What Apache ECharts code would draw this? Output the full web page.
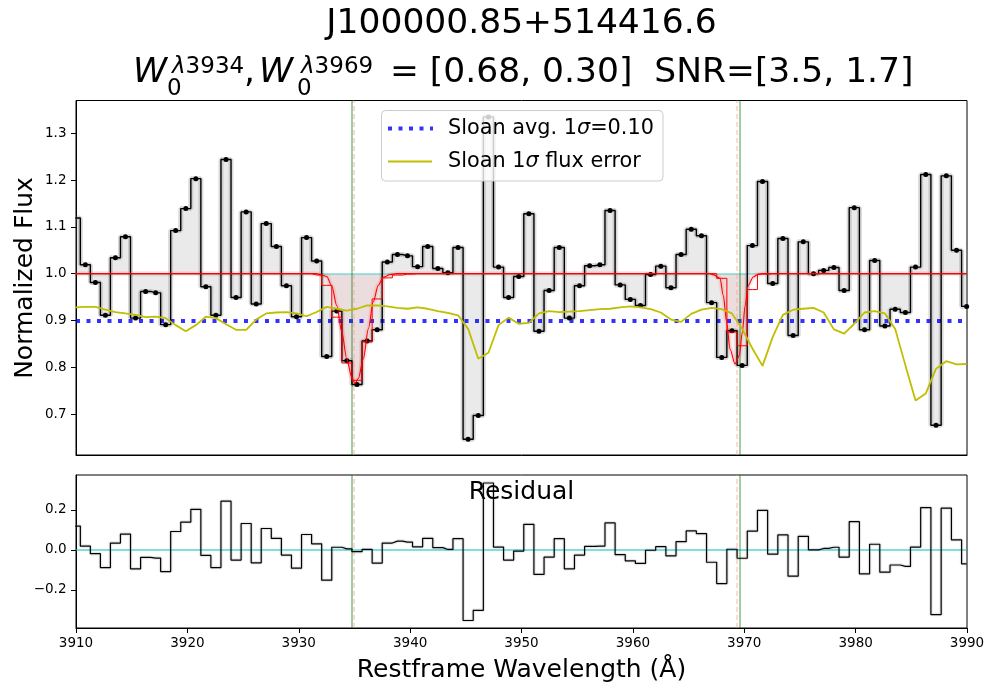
<!DOCTYPE html>
<html>
<head>
<meta charset="utf-8">
<title>J100000.85+514416.6</title>
<script src="https://cdn.jsdelivr.net/npm/echarts@6/dist/echarts.min.js"></script>
<style>
  html, body { margin: 0; background: #fff; }
  #chart { width: 1000px; height: 700px; }
</style>
</head>
<body>
<div id="chart"></div>
<script>
// 数据：从图上读出（restframe 波长，归一化流量）
const wave = [
  3909.94, 3910.84, 3911.74, 3912.64, 3913.54, 3914.44, 3915.35, 3916.25, 3917.15, 3918.05,
  3918.95, 3919.86, 3920.76, 3921.66, 3922.56, 3923.47, 3924.37, 3925.28, 3926.18, 3927.08,
  3927.99, 3928.89, 3929.80, 3930.70, 3931.61, 3932.51, 3933.42, 3934.32, 3935.23, 3936.14,
  3937.04, 3937.95, 3938.86, 3939.76, 3940.67, 3941.58, 3942.49, 3943.39, 3944.30, 3945.21,
  3946.12, 3947.03, 3947.94, 3948.84, 3949.75, 3950.66, 3951.57, 3952.48, 3953.39, 3954.30,
  3955.21, 3956.12, 3957.04, 3957.95, 3958.86, 3959.77, 3960.68, 3961.59, 3962.51, 3963.42,
  3964.33, 3965.24, 3966.16, 3967.07, 3967.98, 3968.90, 3969.81, 3970.73, 3971.64, 3972.56,
  3973.47, 3974.39, 3975.30, 3976.22, 3977.13, 3978.05, 3978.97, 3979.88, 3980.80, 3981.71,
  3982.63, 3983.55, 3984.47, 3985.38, 3986.30, 3987.22, 3988.14, 3989.06, 3989.97
]

const flux = [
  1.119, 1.019, 0.981, 0.911, 1.034, 1.079, 0.905, 0.962, 0.959, 0.891,
  1.092, 1.139, 1.203, 0.972, 0.911, 1.244, 0.949, 1.132, 0.935, 1.107,
  1.058, 0.974, 0.908, 1.077, 1.027, 0.823, 0.920, 0.814, 0.763, 0.856,
  0.880, 1.025, 1.041, 1.038, 1.015, 1.058, 1.011, 1.002, 1.056, 0.646,
  0.697, 1.335, 1.014, 0.949, 0.994, 1.128, 0.877, 0.964, 1.056, 0.905,
  0.974, 1.017, 1.019, 1.135, 0.976, 0.945, 0.932, 0.998, 1.016, 0.970,
  1.041, 1.095, 1.081, 0.938, 0.821, 0.878, 0.804, 1.060, 1.197, 0.979,
  1.075, 0.868, 1.068, 1.000, 1.007, 1.013, 0.964, 1.141, 0.880, 1.028,
  0.888, 0.924, 0.917, 1.014, 1.212, 0.676, 1.209, 1.050, 0.930
]

// 按像素分箱的拟合模型（红色阶梯线）
const modelBin = [
  1, 1, 1, 1, 1, 1, 1, 1, 1, 1,
  1, 1, 1, 1, 1, 1, 1, 1, 1, 1,
  1, 1, 1, 1, 0.997, 0.975, 0.907, 0.809, 0.772, 0.854,
  0.946, 0.991, 0.997, 0.999, 1, 1, 1, 1, 1, 1,
  1, 1, 1, 1, 1, 1, 1, 1, 1, 1,
  1, 1, 1, 1, 1, 1, 1, 1, 1, 1,
  1, 1, 1, 1, 0.990, 0.875, 0.846, 0.966, 0.999, 1,
  1, 1, 1, 1, 1, 1, 1, 1, 1, 1,
  1, 1, 1, 1, 1, 1, 1, 1, 1
]

// Sloan 1σ 流量误差，画成 1 - σ
const fluxErrLine = [
  0.928, 0.929, 0.929, 0.923, 0.918, 0.915, 0.912, 0.907, 0.908, 0.905,
  0.890, 0.877, 0.890, 0.908, 0.905, 0.892, 0.880, 0.880, 0.902, 0.915,
  0.917, 0.918, 0.915, 0.909, 0.918, 0.929, 0.925, 0.921, 0.925, 0.932,
  0.932, 0.930, 0.927, 0.925, 0.928, 0.925, 0.920, 0.916, 0.911, 0.882,
  0.818, 0.831, 0.890, 0.906, 0.893, 0.895, 0.915, 0.920, 0.918, 0.919,
  0.920, 0.922, 0.924, 0.925, 0.928, 0.930, 0.928, 0.924, 0.917, 0.902,
  0.897, 0.914, 0.923, 0.927, 0.924, 0.915, 0.882, 0.840, 0.803, 0.865,
  0.912, 0.923, 0.925, 0.927, 0.917, 0.881, 0.872, 0.893, 0.917, 0.920,
  0.915, 0.882, 0.804, 0.729, 0.744, 0.797, 0.813, 0.806, 0.807
]

// 高分辨率模型曲线（红色细线）
const modelWave = [
  3909.94, 3931.60, 3931.91, 3932.51, 3932.96, 3933.41, 3933.86, 3934.31, 3934.75, 3935.05,
  3935.35, 3935.80, 3936.25, 3936.69, 3937.14, 3937.59, 3938.19, 3938.80, 3966.90, 3967.22,
  3967.82, 3968.12, 3968.42, 3968.72, 3969.17, 3969.56, 3969.83, 3970.08, 3970.36, 3970.81,
  3971.20, 3971.60, 3989.97
]
const modelFlux = [
  1.0, 1.0, 0.998, 0.994, 0.974, 0.932, 0.876, 0.818, 0.779, 0.765,
  0.776, 0.818, 0.882, 0.940, 0.975, 0.992, 0.998, 1.0, 1.0, 0.998,
  0.990, 0.953, 0.896, 0.839, 0.807, 0.825, 0.875, 0.932, 0.975, 0.993,
  0.998, 1.0, 1.0
]

const sloanAvgLevel = 0.897          // 1 - 平均 σ
const lineRest = [3934.78, 3969.59]  // Ca II K, H 静止波长
const lineFit = [3934.96, 3969.30]   // 拟合中心
const yTicksFlux = [0.7, 0.8, 0.9, 1.0, 1.1, 1.2, 1.3]
const yTicksResid = [-0.2, 0, 0.2]

const FONT = 'DejaVu Sans'
const pairs = (xs, ys) => xs.map((x, i) => [x, ys[i]])
const residual = flux.map((f, i) => +(f - modelBin[i]).toFixed(3))

/**
 * 画一段文字（标题、图例、轴名）
 */
function txt(x, y, text, { size = 20.8, italic = false, align = 'left', rotation = 0, rich } = {}) {
  return {
    type: 'text', x, y, rotation, z: 100, silent: true,
    style: {
      text, fill: '#000',
      fontFamily: FONT, fontSize: size, fontStyle: italic ? 'italic' : 'normal',
      textAlign: align, textVerticalAlign: 'middle',
      rich
    }
  }
}

function vLines(color, dashed) {
  return (dashed ? lineFit : lineRest).map(v => ({
    xAxis: v,
    lineStyle: { color, width: 1.5, type: dashed ? [5, 3] : 'solid' }
  }))
}

// 只放 markLine 的空系列
function markerSeries(xi, yi, data, z) {
  return {
    type: 'line', xAxisIndex: xi, yAxisIndex: yi, data: [], z, silent: true,
    markLine: { silent: true, symbol: 'none', label: { show: false }, animation: false, data }
  }
}

const caLines = [...vLines('rgba(0,128,0,0.5)', false), ...vLines('rgba(255,150,160,0.5)', true)]

const supRich = {
  l: { fontFamily: FONT, fontSize: 23, fontStyle: 'italic' },
  d: { fontFamily: FONT, fontSize: 23 }
}
const legRich = {
  n: { fontFamily: FONT, fontSize: 20.8 },
  s: { fontFamily: FONT, fontSize: 20.8, fontStyle: 'italic' }
}

const axisCommon = {
  axisLine: { show: true, onZero: false, lineStyle: { color: '#000', width: 1 } },
  splitLine: { show: false },
  axisTick: { show: true, length: 5, lineStyle: { color: '#000' } },
  axisLabel: { color: '#000', fontFamily: FONT, fontSize: 13.5 }
}

const option = {
  animation: false,
  backgroundColor: '#fff',
  textStyle: { fontFamily: FONT },
  grid: [
    { left: 76, top: 100.5, width: 891, height: 354.5, show: true, borderColor: '#000', borderWidth: 1, backgroundColor: 'transparent' },
    { left: 76, top: 475, width: 891, height: 153, show: true, borderColor: '#000', borderWidth: 1, backgroundColor: 'transparent' }
  ],
  xAxis: [
    { ...axisCommon, type: 'value', gridIndex: 0, min: 3910, max: 3990,
      axisTick: { show: false }, axisLabel: { show: false } },
    { ...axisCommon, type: 'value', gridIndex: 1, min: 3910, max: 3990, interval: 10,
      axisLabel: { ...axisCommon.axisLabel, margin: 8, formatter: v => String(v) } }
  ],
  yAxis: [
    { ...axisCommon, type: 'value', gridIndex: 0, min: 0.6125, max: 1.37,
      axisTick: { ...axisCommon.axisTick, customValues: yTicksFlux },
      axisLabel: { ...axisCommon.axisLabel, margin: 9.5, customValues: yTicksFlux, formatter: v => v.toFixed(1) } },
    { ...axisCommon, type: 'value', gridIndex: 1, min: -0.3915, max: 0.375,
      axisTick: { ...axisCommon.axisTick, customValues: yTicksResid },
      axisLabel: { ...axisCommon.axisLabel, margin: 9.5, customValues: yTicksResid,
        formatter: v => (v < 0 ? '\u2212' : '') + Math.abs(v).toFixed(1) } }
  ],
  series: [
    // 上图：连续谱 1.0 的青色线
    markerSeries(0, 0, [{ yAxis: 1, lineStyle: { color: 'rgba(0,191,191,0.35)', width: 2, type: 'solid' } }], 1),
    // 数据与连续谱之间的灰色填充
    {
      type: 'line', xAxisIndex: 0, yAxisIndex: 0, step: 'middle', data: pairs(wave, flux),
      symbol: 'none', lineStyle: { width: 0, opacity: 0 },
      areaStyle: { origin: 1, color: 'rgba(128,128,128,0.24)' }, z: 1, silent: true
    },
    // 数据阶梯线的灰色外晕
    {
      type: 'line', xAxisIndex: 0, yAxisIndex: 0, step: 'middle', data: pairs(wave, flux),
      symbol: 'none', lineStyle: { width: 5, color: 'rgba(128,128,128,0.3)' }, z: 2, silent: true
    },
    // 模型吸收区的粉色填充 + 外晕
    {
      type: 'line', xAxisIndex: 0, yAxisIndex: 0, data: pairs(modelWave, modelFlux),
      smooth: 0.3, smoothMonotone: 'x', symbol: 'none',
      lineStyle: { width: 5, color: 'rgba(255,0,0,0.1)' },
      areaStyle: { origin: 1, color: 'rgba(255,0,0,0.08)' }, z: 3, silent: true
    },
    // 观测流量
    {
      type: 'line', xAxisIndex: 0, yAxisIndex: 0, step: 'middle', data: pairs(wave, flux),
      symbol: 'circle', symbolSize: 5, showSymbol: true, showAllSymbol: true,
      itemStyle: { color: '#000' }, lineStyle: { width: 1.4, color: '#000' }, z: 5, silent: true
    },
    // 分箱模型
    {
      type: 'line', xAxisIndex: 0, yAxisIndex: 0, step: 'middle', data: pairs(wave, modelBin),
      symbol: 'none', lineStyle: { width: 1, color: '#ff0000' }, z: 6, silent: true
    },
    // 高分辨率模型
    {
      type: 'line', xAxisIndex: 0, yAxisIndex: 0, data: pairs(modelWave, modelFlux),
      smooth: 0.3, smoothMonotone: 'x', symbol: 'none',
      lineStyle: { width: 1.1, color: '#ff0000' }, z: 6, silent: true
    },
    // Sloan 1σ flux error
    {
      type: 'line', xAxisIndex: 0, yAxisIndex: 0, data: pairs(wave, fluxErrLine),
      symbol: 'none', lineStyle: { width: 1.8, color: '#bfbf00' }, z: 7, silent: true
    },
    // 平均 1σ 水平点线 + Ca II 竖线
    markerSeries(0, 0, [{
      yAxis: sloanAvgLevel,
      lineStyle: { color: 'rgba(0,0,255,0.8)', width: 4, type: [4, 6.5], cap: 'butt' }
    }, ...caLines], 9),

    // 下图：残差
    markerSeries(1, 1, [{ yAxis: 0, lineStyle: { color: 'rgba(0,191,191,0.5)', width: 2, type: 'solid' } }], 1),
    {
      type: 'line', xAxisIndex: 1, yAxisIndex: 1, step: 'middle', data: pairs(wave, residual),
      symbol: 'none', lineStyle: { width: 3.5, color: 'rgba(128,128,128,0.2)' }, z: 2, silent: true
    },
    {
      type: 'line', xAxisIndex: 1, yAxisIndex: 1, step: 'middle', data: pairs(wave, residual),
      symbol: 'none', lineStyle: { width: 1.2, color: '#000' }, z: 5, silent: true
    },
    markerSeries(1, 1, caLines, 9)
  ],
  graphic: [
    // 标题
    txt(521.5, 24, 'J100000.85+514416.6', { size: 34.5, align: 'center' }),
    txt(133, 73, 'W', { size: 34.5, italic: true }),
    txt(172, 67, '{l|λ}{d|3934}', { rich: supRich }),
    txt(167, 89, '0', { size: 23 }),
    txt(244, 73, ',', { size: 34.5 }),
    txt(259, 73, 'W', { size: 34.5, italic: true }),
    txt(301, 67, '{l|λ}{d|3969}', { rich: supRich }),
    txt(297, 89, '0', { size: 23 }),
    txt(390, 73, '= [0.68, 0.30]  SNR=[3.5, 1.7]', { size: 34.5 }),

    // 图例
    {
      type: 'rect', z: 99, silent: true,
      shape: { x: 381.5, y: 110.5, width: 281.5, height: 70.5, r: 4 },
      style: { fill: 'rgba(255,255,255,0.8)', stroke: '#cccccc', lineWidth: 1 }
    },
    {
      type: 'line', z: 100, silent: true,
      shape: { x1: 388, y1: 128.5, x2: 433, y2: 128.5 },
      style: { stroke: 'rgba(0,0,255,0.8)', lineWidth: 4, lineDash: [4, 6.5], lineCap: 'butt' }
    },
    {
      type: 'line', z: 100, silent: true,
      shape: { x1: 388, y1: 161.5, x2: 432, y2: 161.5 },
      style: { stroke: '#bfbf00', lineWidth: 2 }
    },
    txt(448, 129, '{n|Sloan avg. 1}{s|σ}{n|=0.10}', { rich: legRich }),
    txt(448, 162, '{n|Sloan 1}{s|σ}{n| flux error}', { rich: legRich }),

    // 轴名与残差标注
    txt(25, 278, 'Normalized Flux', { size: 25, align: 'center', rotation: Math.PI / 2 }),
    txt(521.5, 670, 'Restframe Wavelength (Å)', { size: 25, align: 'center' }),
    txt(521.5, 492, 'Residual', { size: 25, align: 'center' })
  ]
}

const chart = echarts.init(document.getElementById('chart'), null, { renderer: 'canvas' })
chart.setOption(option)
</script>
</body>
</html>
